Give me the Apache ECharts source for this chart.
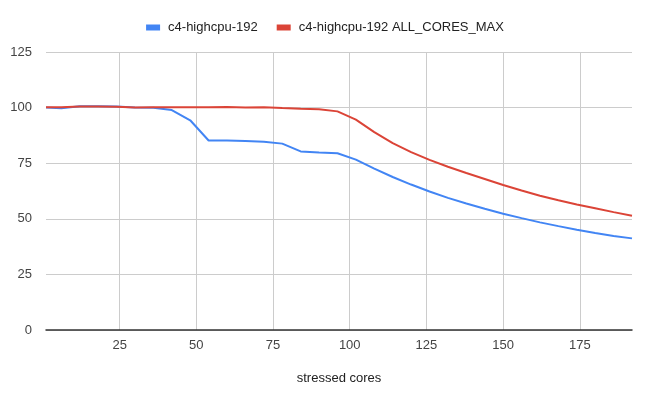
<!DOCTYPE html>
<html>
<head>
<meta charset="utf-8">
<script src="https://cdn.jsdelivr.net/npm/echarts@6/dist/echarts.min.js"></script>
<style>
html,body{margin:0;padding:0;background:#fff;}
#chart{width:650px;height:401px;}
</style>
</head>
<body>
<div id="chart"></div>
<script>
var cores = [1, 6, 12, 18, 24, 30, 36, 42, 48, 54, 60, 66, 72, 78, 84, 90, 96,
  102, 108, 114, 120, 126, 132, 138, 144, 150, 156, 162, 168, 174, 180, 186, 192];
var highcpu = [100.0, 99.7, 100.6, 100.6, 100.5, 100.0, 99.9, 98.9, 94.3, 85.2, 85.2, 85.0, 84.6, 83.8, 80.3, 79.8, 79.5,
  76.6, 72.6, 68.8, 65.4, 62.3, 59.4, 56.9, 54.5, 52.3, 50.3, 48.4, 46.7, 45.1, 43.6, 42.3, 41.2];
var allCoresMax = [100.2, 100.2, 100.5, 100.5, 100.4, 100.1, 100.2, 100.2, 100.2, 100.2, 100.3, 100.1, 100.2, 99.8, 99.5, 99.3, 98.3,
  94.6, 89.0, 84.0, 80.0, 76.5, 73.4, 70.6, 67.9, 65.2, 62.7, 60.4, 58.3, 56.4, 54.7, 53.0, 51.4];
var xTicks = [25, 50, 75, 100, 125, 150, 175];
var seriesNames = ['c4-highcpu-192', 'c4-highcpu-192 ALL_CORES_MAX'];
var xTitle = 'stressed cores';

function pairs(xs, ys) { return xs.map(function (x, i) { return [x, ys[i]]; }); }

var chart = echarts.init(document.getElementById('chart'), null, {renderer: 'canvas'});
chart.setOption({
  animation: false,
  textStyle: {fontFamily: 'Liberation Sans, Arial, sans-serif'},
  legend: {
    top: 16,
    left: 'center',
    itemWidth: 14,
    itemHeight: 6,
    itemGap: 19,
    icon: 'rect',
    textStyle: {fontSize: 13, color: '#222', padding: [0, 0, 0, 3]},
    data: seriesNames
  },
  grid: {left: 46, right: 18, top: 52, bottom: 71},
  xAxis: {
    type: 'value',
    min: 1,
    max: 192,
    name: xTitle,
    nameLocation: 'middle',
    nameGap: 42,
    nameTextStyle: {fontSize: 13, color: '#222'},
    axisLine: {show: true, onZero: false, lineStyle: {color: '#333', width: 1.5}},
    axisTick: {show: false, customValues: xTicks},
    axisLabel: {fontSize: 13, color: '#444', margin: 9, customValues: xTicks},
    splitLine: {show: true, lineStyle: {color: '#ccc', width: 1}}
  },
  yAxis: {
    type: 'value',
    min: 0,
    max: 125,
    interval: 25,
    axisLine: {show: false},
    axisTick: {show: false},
    axisLabel: {fontSize: 13, color: '#444', margin: 14},
    splitLine: {show: true, lineStyle: {color: '#ccc', width: 1}}
  },
  series: [
    {
      name: seriesNames[0], type: 'line', data: pairs(cores, highcpu),
      showSymbol: false, symbol: 'none', color: '#4285F4',
      lineStyle: {width: 2, color: '#4285F4'}
    },
    {
      name: seriesNames[1], type: 'line', data: pairs(cores, allCoresMax),
      showSymbol: false, symbol: 'none', color: '#DB4437',
      lineStyle: {width: 2, color: '#DB4437'}
    }
  ]
});
</script>
</body>
</html>
